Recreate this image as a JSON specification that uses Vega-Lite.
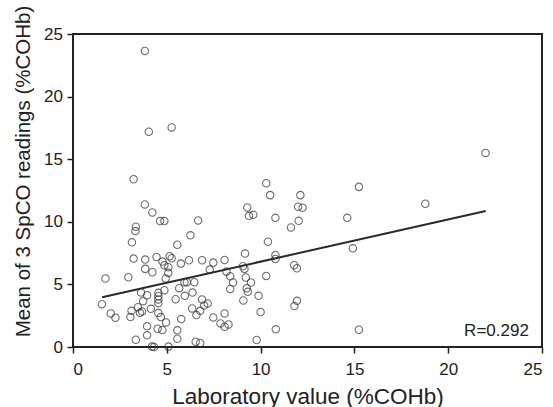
{
  "$schema": "https://vega.github.io/schema/vega-lite/v6.json",
  "autosize": {"type": "none"},
  "width": 469,
  "height": 313,
  "padding": {"left": 73, "top": 34, "right": 11, "bottom": 60},
  "background": "white",
  "config": {
    "view": {"stroke": "#222222", "strokeWidth": 2},
    "axis": {
      "labelFont": "Liberation Sans",
      "titleFont": "Liberation Sans",
      "labelFontSize": 17,
      "titleFontWeight": "normal",
      "labelColor": "#222222",
      "titleColor": "#222222",
      "tickColor": "#222222",
      "tickSize": 6,
      "tickWidth": 1.5,
      "domain": false,
      "grid": false
    }
  },
  "datasets": {
    "pts": [
      {"lab": 3.83, "spco": 23.65}, {"lab": 4.04, "spco": 17.2}, {"lab": 5.26, "spco": 17.54},
      {"lab": 3.23, "spco": 13.4}, {"lab": 21.99, "spco": 15.5}, {"lab": 15.24, "spco": 12.79},
      {"lab": 18.78, "spco": 11.44}, {"lab": 10.3, "spco": 13.08}, {"lab": 10.51, "spco": 12.13},
      {"lab": 12.12, "spco": 12.13}, {"lab": 9.29, "spco": 11.15}, {"lab": 12.0, "spco": 11.2},
      {"lab": 12.24, "spco": 11.12}, {"lab": 3.83, "spco": 11.39}, {"lab": 4.23, "spco": 10.75},
      {"lab": 4.64, "spco": 10.06}, {"lab": 4.87, "spco": 10.06}, {"lab": 6.67, "spco": 10.11},
      {"lab": 9.38, "spco": 10.48}, {"lab": 9.61, "spco": 10.56}, {"lab": 10.79, "spco": 10.32},
      {"lab": 12.03, "spco": 10.08}, {"lab": 14.62, "spco": 10.32}, {"lab": 11.62, "spco": 9.55},
      {"lab": 3.35, "spco": 9.61}, {"lab": 3.33, "spco": 9.26}, {"lab": 3.14, "spco": 8.36},
      {"lab": 6.26, "spco": 8.92}, {"lab": 5.56, "spco": 8.17}, {"lab": 10.39, "spco": 8.41},
      {"lab": 14.92, "spco": 7.88}, {"lab": 9.17, "spco": 7.46}, {"lab": 10.79, "spco": 7.35},
      {"lab": 10.79, "spco": 7.03}, {"lab": 3.23, "spco": 7.06}, {"lab": 3.85, "spco": 6.98},
      {"lab": 4.45, "spco": 7.19}, {"lab": 5.15, "spco": 7.25}, {"lab": 5.26, "spco": 7.09},
      {"lab": 6.18, "spco": 6.93}, {"lab": 6.88, "spco": 6.93}, {"lab": 8.08, "spco": 6.95},
      {"lab": 7.48, "spco": 6.74}, {"lab": 4.77, "spco": 6.82}, {"lab": 4.87, "spco": 6.53},
      {"lab": 5.08, "spco": 6.37}, {"lab": 5.75, "spco": 6.66}, {"lab": 7.29, "spco": 6.18},
      {"lab": 9.06, "spco": 6.45}, {"lab": 9.14, "spco": 6.24}, {"lab": 11.79, "spco": 6.53},
      {"lab": 11.94, "spco": 6.29}, {"lab": 3.85, "spco": 6.24}, {"lab": 4.23, "spco": 5.97},
      {"lab": 5.08, "spco": 5.92}, {"lab": 2.95, "spco": 5.57}, {"lab": 1.73, "spco": 5.47},
      {"lab": 4.94, "spco": 5.47}, {"lab": 8.18, "spco": 6.02}, {"lab": 9.21, "spco": 5.55},
      {"lab": 8.38, "spco": 5.65}, {"lab": 8.53, "spco": 5.15}, {"lab": 9.49, "spco": 5.15},
      {"lab": 10.3, "spco": 5.68}, {"lab": 5.94, "spco": 5.18}, {"lab": 6.07, "spco": 5.18},
      {"lab": 6.47, "spco": 5.18}, {"lab": 5.66, "spco": 4.7}, {"lab": 8.38, "spco": 4.64},
      {"lab": 9.26, "spco": 4.7}, {"lab": 9.32, "spco": 4.41}, {"lab": 4.87, "spco": 4.54},
      {"lab": 4.55, "spco": 4.33}, {"lab": 4.55, "spco": 4.06}, {"lab": 4.55, "spco": 3.8},
      {"lab": 4.55, "spco": 3.5}, {"lab": 3.63, "spco": 4.35}, {"lab": 3.95, "spco": 4.14},
      {"lab": 3.74, "spco": 3.66}, {"lab": 6.37, "spco": 4.35}, {"lab": 5.96, "spco": 4.09},
      {"lab": 5.47, "spco": 3.82}, {"lab": 9.89, "spco": 4.09}, {"lab": 9.08, "spco": 3.72},
      {"lab": 11.94, "spco": 3.69}, {"lab": 11.8, "spco": 3.27}, {"lab": 1.54, "spco": 3.42},
      {"lab": 6.88, "spco": 3.8}, {"lab": 7.18, "spco": 3.48}, {"lab": 6.99, "spco": 3.32},
      {"lab": 6.35, "spco": 3.08}, {"lab": 6.78, "spco": 2.89}, {"lab": 6.58, "spco": 2.55},
      {"lab": 8.08, "spco": 2.68}, {"lab": 10.0, "spco": 2.79}, {"lab": 3.46, "spco": 3.18},
      {"lab": 3.12, "spco": 2.89}, {"lab": 3.57, "spco": 2.73}, {"lab": 3.68, "spco": 2.84},
      {"lab": 4.15, "spco": 3.05}, {"lab": 4.55, "spco": 2.71}, {"lab": 4.68, "spco": 2.39},
      {"lab": 2.01, "spco": 2.68}, {"lab": 2.26, "spco": 2.34}, {"lab": 3.06, "spco": 2.39},
      {"lab": 7.48, "spco": 2.36}, {"lab": 5.77, "spco": 2.23}, {"lab": 4.96, "spco": 1.96},
      {"lab": 7.86, "spco": 1.88}, {"lab": 8.08, "spco": 1.62}, {"lab": 8.29, "spco": 1.8},
      {"lab": 3.95, "spco": 1.65}, {"lab": 4.51, "spco": 1.46}, {"lab": 4.76, "spco": 1.35},
      {"lab": 5.56, "spco": 1.33}, {"lab": 10.81, "spco": 1.41}, {"lab": 15.24, "spco": 1.38},
      {"lab": 3.95, "spco": 0.93}, {"lab": 5.56, "spco": 0.66}, {"lab": 3.35, "spco": 0.58},
      {"lab": 9.79, "spco": 0.56}, {"lab": 6.54, "spco": 0.42}, {"lab": 6.78, "spco": 0.32},
      {"lab": 4.21, "spco": 0.03}, {"lab": 4.32, "spco": 0.0}, {"lab": 5.09, "spco": 0.03}
    ],
    "fit": [
      {"lab": 1.55, "spco": 3.97},
      {"lab": 22.0, "spco": 10.86}
    ]
  },
  "layer": [
    {
      "data": {"name": "fit"},
      "mark": {"type": "line", "color": "#2a2a2a", "strokeWidth": 2},
      "encoding": {
        "x": {"field": "lab", "type": "quantitative", "scale": {"domain": [0, 25], "nice": false},
              "axis": {"title": "Laboratory value (%COHb)", "values": [0, 5, 10, 15, 20, 25], "labelPadding": 8, "titleFontSize": 22.5, "titleBaseline": "alphabetic", "titleY": 56, "orient": "bottom"}},
        "y": {"field": "spco", "type": "quantitative", "scale": {"domain": [0, 25], "nice": false},
              "axis": {"title": "Mean of 3 SpCO readings (%COHb)", "values": [0, 5, 10, 15, 20, 25], "labelPadding": 4.5, "titleFontSize": 20.5, "titleX": -50, "titleY": 137, "titleBaseline": "middle"}}
      }
    },
    {
      "data": {"name": "pts"},
      "mark": {"type": "point", "shape": "circle", "filled": false, "stroke": "#333333", "strokeWidth": 1.1, "size": 55, "clip": false},
      "encoding": {
        "x": {"field": "lab", "type": "quantitative"},
        "y": {"field": "spco", "type": "quantitative"}
      }
    },
    {
      "data": {"values": [{"label": "R=0.292"}]},
      "mark": {"type": "text", "align": "right", "baseline": "middle", "font": "Liberation Sans", "fontSize": 17, "color": "#222222"},
      "encoding": {
        "text": {"field": "label"},
        "x": {"datum": 24.3},
        "y": {"datum": 1.25}
      }
    }
  ]
}
